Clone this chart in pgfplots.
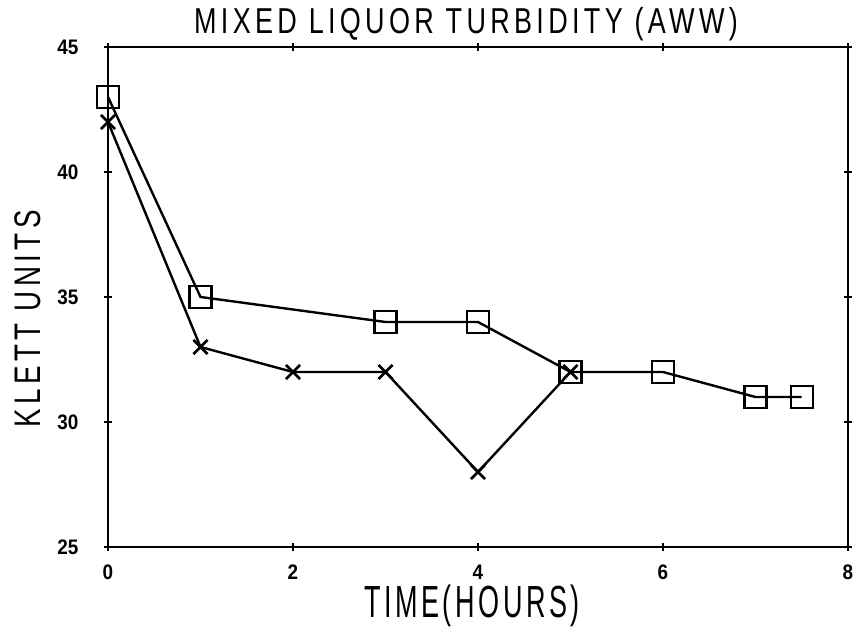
\documentclass[border=0pt]{standalone}
\usepackage{fontspec}
\setmainfont{Liberation Sans}[FakeStretch=0.75, LetterSpace=12]
\newfontfamily\labfont{Liberation Sans}[FakeStretch=0.6, LetterSpace=8]
\newfontfamily\tickfont{Liberation Sans}[FakeStretch=0.9]
\usepackage{pgfplots}
\pgfplotsset{compat=1.18}

\begin{document}
\begin{tikzpicture}[x=1pt,y=1pt]
\path[use as bounding box] (0,0) rectangle (854,634);
\begin{axis}[
    at={(108pt,87pt)}, anchor=south west,
    scale only axis,
    width=740pt, height=500pt,
    xmin=0, xmax=8, ymin=25, ymax=45,
    xtick={0,2,4,6,8}, ytick={25,30,35,40,45},
    tick align=center,
    major tick length=8pt,
    axis line style={line width=2pt},
    every tick/.style={line width=1.8pt, black},
    /pgf/number format/assume math mode=true,
    xticklabel={\tickfont\fontsize{21}{21}\selectfont\bfseries\pgfmathprintnumber{\tick}},
    yticklabel={\tickfont\fontsize{21}{21}\selectfont\bfseries\pgfmathprintnumber{\tick}},
    xticklabel style={yshift=-13pt, inner sep=1pt},
    yticklabel style={xshift=-22pt},
    title={MIXED LIQUOR TURBIDITY (AWW)},
    title style={font=\fontsize{36}{36}\selectfont, xshift=-12pt, yshift=-3pt},
    xlabel={TIME(HOURS)},
    ylabel={KLETT UNITS},
    xlabel style={font=\labfont\fontsize{45}{45}\selectfont, inner sep=0pt, yshift=-4pt, xshift=-6pt},
    ylabel style={font=\fontsize{37}{37}\selectfont, yshift=10pt, xshift=-22pt},
    clip=false,
]
% squares
\addplot[black, line width=2.4pt, mark=square, mark size=11pt, mark options={line width=2.4pt}] coordinates {
    (0,43) (1,35) (3,34) (4,34) (5,32) (6,32) (7,31) (7.5,31)
};
% crosses
\addplot[black, line width=2.4pt, mark=x, mark size=10pt, mark options={line width=2.8pt}] coordinates {
    (0,42) (1,33) (2,32) (3,32) (4,28) (5,32)
};
\end{axis}
\end{tikzpicture}
\end{document}
